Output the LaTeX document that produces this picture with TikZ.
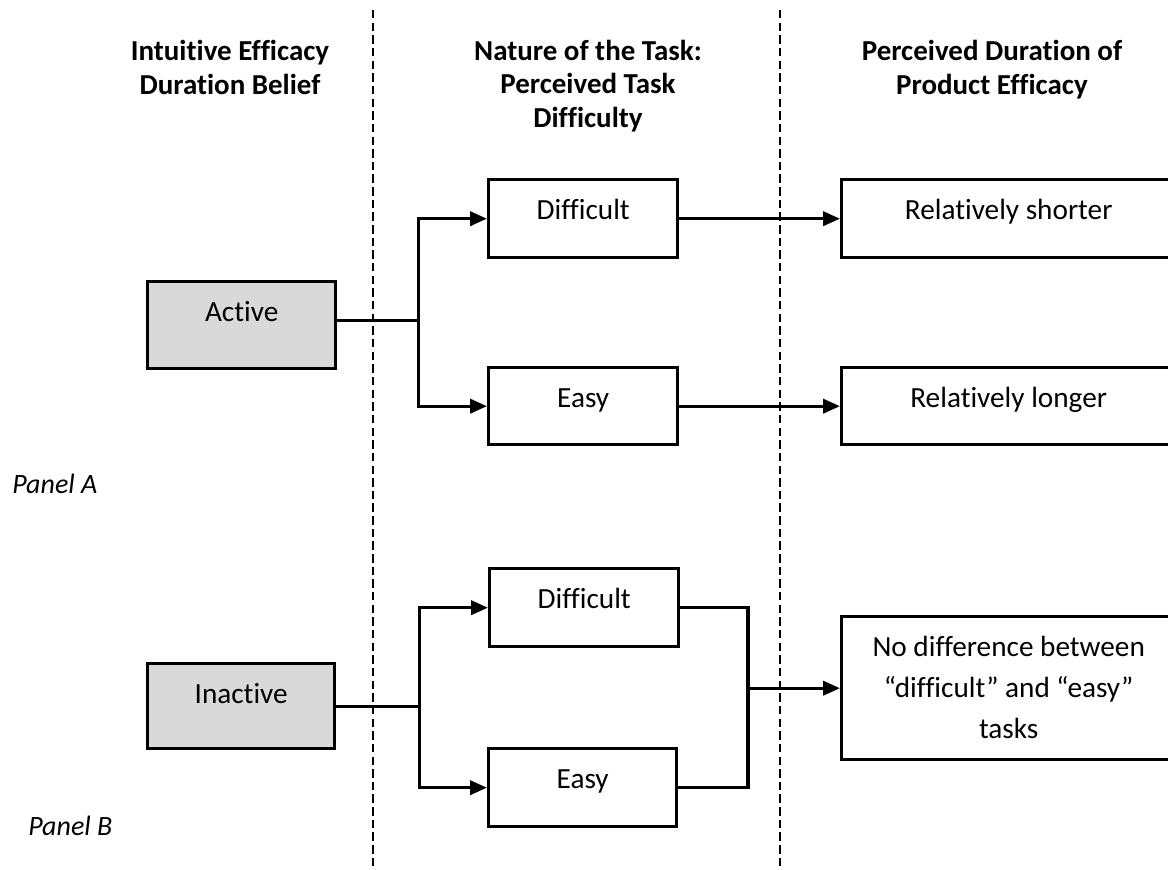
\documentclass[tikz,border=0pt]{standalone}
\usepackage{fontspec}
\setmainfont{Carlito}[Ligatures={TeX,NoCommon}]
\usetikzlibrary{arrows.meta,calc}
\definecolor{BeliefGray}{HTML}{D9D9D9}

\begin{document}
\begin{tikzpicture}[>={Triangle[length=12pt,width=10pt]},
  every node/.style={font=\fontsize{20.8pt}{29.2pt}\selectfont, inner sep=0pt},
  head/.style={font=\fontsize{20.6pt}{23.5pt}\selectfont\bfseries, align=center, anchor=base},
  box/.style={draw, line width=2.4pt, anchor=north west, text height=1cm, align=center},
  flow/.style={line width=2.4pt, line cap=rect},
  panel/.style={anchor=base west, font=\fontsize{19.9pt}{24pt}\selectfont\itshape},
  divider/.style={line width=1.1pt, dash pattern=on 6pt off 3pt}]
  \useasboundingbox (0,0) rectangle (29.2,-21.725);
  \clip (0,0) rectangle (29.2,-21.725);

  % column dividers
  \draw[divider] (9.325,-0.25) -- (9.325,-21.725);
  \draw[divider] (19.5,-0.25) -- (19.5,-21.725);

  % column headings (anchored at the last line)
  \node[head] (hBelief) at (5.75,-2.35) {Intuitive Efficacy\\Duration Belief};
  \node[head] (hTask) at (14.7,-3.175) {Nature of the Task:\\Perceived Task\\Difficulty};
  \node[head] (hDuration) at (24.8,-2.35) {Perceived Duration of\\Product Efficacy};

  % Panel A
  \node[box, fill=BeliefGray, minimum width=4.7cm, text depth=1.175cm] (active) at (3.65,-7.0) {Active};
  \node[box, minimum width=4.725cm, text depth=0.95cm] (diffA) at (12.175,-4.45) {Difficult};
  \node[box, minimum width=4.725cm, text depth=0.925cm] (easyA) at (12.175,-9.15) {Easy};
  \node[box, minimum width=8.35cm, text depth=0.95cm] (shorter) at (21.0,-4.45) {Relatively shorter};
  \node[box, minimum width=8.35cm, text depth=0.925cm] (longer) at (21.0,-9.15) {Relatively longer};
  \node[panel] (panelA) at (0.3,-12.325) {Panel A};

  \draw[flow] ($(active.east)+(0,0.12)$) -- ++(2.025,0) coordinate (forkA);
  \draw[flow,->] (forkA) |- (diffA.west);
  \draw[flow,->] (forkA) |- (easyA.west);
  \draw[flow,->] (diffA.east) -- (shorter.west);
  \draw[flow,->] (easyA.east) -- (longer.west);

  % Panel B
  \node[box, fill=BeliefGray, minimum width=4.675cm, text depth=1.125cm] (inactive) at (3.65,-16.55) {Inactive};
  \node[box, minimum width=4.725cm, text depth=0.95cm] (diffB) at (12.2,-14.175) {Difficult};
  \node[box, minimum width=4.7cm, text depth=0.95cm] (easyB) at (12.175,-18.675) {Easy};
  \node[box, minimum width=8.35cm, text height=3.05cm, text depth=0.525cm] (nodiff) at (21.0,-15.375)
    {No difference between\\“difficult” and “easy”\\tasks};
  \node[panel] (panelB) at (0.7,-20.875) {Panel B};

  \draw[flow] (inactive.east) -- ++(2.075,0) coordinate (forkB);
  \draw[flow,->] (forkB) |- (diffB.west);
  \draw[flow,->] (forkB) |- (easyB.west);
  \path (nodiff.west) ++(-2.3,0) coordinate (joinB);
  \draw[flow] (diffB.east) -| (joinB) |- (easyB.east);
  \draw[flow,->] (joinB) -- (nodiff.west);
\end{tikzpicture}
\end{document}
